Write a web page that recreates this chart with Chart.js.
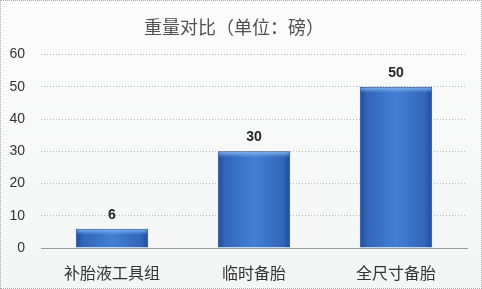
<!DOCTYPE html>
<html>
<head>
<meta charset="utf-8">
<script src="https://cdn.jsdelivr.net/npm/chart.js@4"></script>
<style>
  html, body { margin: 0; padding: 0; background: #fff; }
  #wrap { position: relative; width: 482px; height: 289px; box-sizing: border-box;
          border: 1px dotted #aaa; background: linear-gradient(#fbfcfb, #f4f6f5); }
</style>
</head>
<body>
<div id="wrap"><canvas id="chart"></canvas></div>
<script>
const categories = ["补胎液工具组", "临时备胎", "全尺寸备胎"];
const weights = [6, 30, 50];
const yTicks = [0, 10, 20, 30, 40, 50, 60];
const barShare = 0.51;

const ctx = document.getElementById("chart").getContext("2d");

function barFill(context) {
  const chart = context.chart;
  const xs = chart.scales && chart.scales.x;
  if (!xs || context.dataIndex === undefined) return "#3a72c4";
  const cx = xs.getPixelForValue(context.dataIndex);
  const half = (xs.width / categories.length) * barShare / 2;
  if (!isFinite(cx) || !isFinite(half) || half <= 0) return "#3a72c4";
  const g = chart.ctx.createLinearGradient(cx - half, 0, cx + half, 0);
  g.addColorStop(0, "#1f4c98");
  g.addColorStop(0.1, "#3266ba");
  g.addColorStop(0.5, "#4280d4");
  g.addColorStop(0.9, "#3266ba");
  g.addColorStop(1, "#1f4c98");
  return g;
}

// light bevel on top of each bar plus value labels
const barExtras = {
  id: "barExtras",
  afterDatasetsDraw(chart) {
    const c = chart.ctx;
    const meta = chart.getDatasetMeta(0);
    c.save();
    meta.data.forEach((bar) => {
      const half = bar.width / 2;
      const g = c.createLinearGradient(0, bar.y, 0, bar.y + 6);
      g.addColorStop(0, "rgba(140,190,245,0.9)");
      g.addColorStop(1, "rgba(140,190,245,0)");
      c.fillStyle = g;
      c.fillRect(bar.x - half + 1, bar.y + 1, bar.width - 2, 6);
    });
    c.font = "bold 14px 'Liberation Sans', Arial, sans-serif";
    c.fillStyle = "#262626";
    c.textAlign = "center";
    c.textBaseline = "bottom";
    meta.data.forEach((bar, i) => {
      c.fillText(String(weights[i]), bar.x, bar.y - 7);
    });
    c.restore();
  },
};

new Chart(ctx, {
  type: "bar",
  data: {
    labels: categories,
    datasets: [
      {
        label: "重量",
        data: weights,
        backgroundColor: barFill,
        borderColor: "#1d4a92",
        borderWidth: 1,
        barPercentage: 1,
        categoryPercentage: barShare,
      },
    ],
  },
  options: {
    responsive: true,
    maintainAspectRatio: false,
    animation: false,
    layout: { padding: { left: 0, right: 14, top: 0, bottom: 4 } },
    plugins: {
      legend: { display: false },
      tooltip: { enabled: false },
      title: {
        display: true,
        text: "重量对比（单位：磅）",
        color: "#505050",
        font: { family: "'Noto Sans CJK SC', sans-serif", size: 18, weight: "normal" },
        padding: { top: 15, bottom: 17 },
      },
    },
    scales: {
      y: {
        min: 0,
        max: 60,
        afterBuildTicks: (axis) => { axis.ticks = yTicks.map((v) => ({ value: v })); },
        afterFit: (axis) => { axis.width = 40; },
        border: { display: false, dash: [1, 2] },
        grid: {
          color: "#b8b8b8",
          lineWidth: 1,
          drawTicks: false,
        },
        ticks: {
          color: "#333",
          padding: 16,
          font: { family: "'Liberation Sans', Arial, sans-serif", size: 14 },
        },
      },
      x: {
        afterFit: (axis) => { axis.height = 36; },
        border: { display: true, color: "#9a9a9a" },
        grid: { display: false },
        ticks: {
          color: "#333",
          padding: 7,
          font: { family: "'Noto Sans CJK SC', sans-serif", size: 16 },
        },
      },
    },
  },
  plugins: [barExtras],
});
</script>
</body>
</html>
